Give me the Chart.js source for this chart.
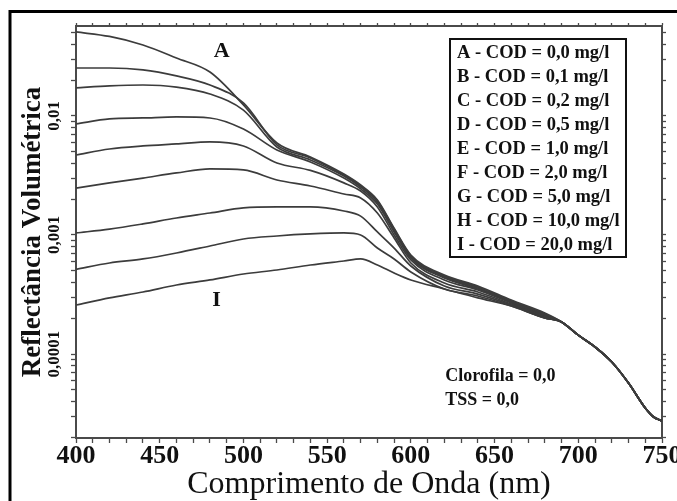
<!DOCTYPE html>
<html>
<head>
<meta charset="utf-8">
<script src="https://cdn.jsdelivr.net/npm/chart.js@4/dist/chart.umd.min.js"></script>
<style>
  html, body { margin: 0; padding: 0; background: #ffffff; }
  #wrap { width: 677px; height: 501px; position: relative; background: #ffffff; }
</style>
</head>
<body>
<div id="wrap"><canvas id="c" width="677" height="501"></canvas></div>
<script>
// ---------------- data ----------------
const wavelengths = [400, 420, 440, 460, 480, 500, 520, 540, 560, 570, 580, 590, 600, 620, 640, 660, 680, 690, 700, 710, 720, 730, 740, 745, 750];

const seriesLabels = [
  'A - COD = 0,0 mg/l',
  'B - COD = 0,1 mg/l',
  'C - COD = 0,2 mg/l',
  'D - COD = 0,5 mg/l',
  'E - COD = 1,0 mg/l',
  'F - COD = 2,0 mg/l',
  'G - COD = 5,0 mg/l',
  'H - COD = 10,0 mg/l',
  'I - COD = 20,0 mg/l'
];

const serieA = [0.0508, 0.0466, 0.0395, 0.0307, 0.0234, 0.0124, 0.00593, 0.00452, 0.00325, 0.00263, 0.00197, 0.00114, 0.000679, 0.000461, 0.000373, 0.000284, 0.000221, 0.000186, 0.000144, 0.0001145, 0.0000857, 0.0000571, 0.0000352, 0.0000296, 0.0000274];
const serieB = [0.0253, 0.0253, 0.0244, 0.0217, 0.0182, 0.01286, 0.00571, 0.00444, 0.00319, 0.00258, 0.00193, 0.00112, 0.000666, 0.000452, 0.000366, 0.000279, 0.000217, 0.000186, 0.000144, 0.0001145, 0.0000857, 0.0000571, 0.0000352, 0.0000296, 0.0000274];
const serieC = [0.0172, 0.0179, 0.0182, 0.0175, 0.0153, 0.0112, 0.00549, 0.00427, 0.00313, 0.00253, 0.00189, 0.00110, 0.000653, 0.000444, 0.000359, 0.000274, 0.000213, 0.000186, 0.000144, 0.0001145, 0.0000857, 0.0000571, 0.0000352, 0.0000296, 0.0000274];
const serieD = [0.00857, 0.00944, 0.00962, 0.00981, 0.00962, 0.00777, 0.00518, 0.00411, 0.00301, 0.00244, 0.00182, 0.00106, 0.000640, 0.000435, 0.000352, 0.000274, 0.000213, 0.000186, 0.000144, 0.0001145, 0.0000857, 0.0000571, 0.0000352, 0.0000296, 0.0000274];
const serieE = [0.00470, 0.00528, 0.00560, 0.00582, 0.00605, 0.00560, 0.00403, 0.00349, 0.00274, 0.00234, 0.00172, 0.00100, 0.000617, 0.000419, 0.000345, 0.000268, 0.000209, 0.000186, 0.000144, 0.0001145, 0.0000857, 0.0000571, 0.0000352, 0.0000296, 0.0000274];
const serieF = [0.00248, 0.00274, 0.00301, 0.00332, 0.00359, 0.00352, 0.00290, 0.00258, 0.00221, 0.00205, 0.00153, 0.000944, 0.000582, 0.000395, 0.000332, 0.000263, 0.000205, 0.000186, 0.000144, 0.0001145, 0.0000857, 0.0000571, 0.0000352, 0.0000296, 0.0000274];
const serieG = [0.00104, 0.00112, 0.00124, 0.00139, 0.00153, 0.00169, 0.00172, 0.00172, 0.00159, 0.00144, 0.00106, 0.000777, 0.000549, 0.000373, 0.000319, 0.000258, 0.000201, 0.000186, 0.000144, 0.0001145, 0.0000857, 0.0000571, 0.0000352, 0.0000296, 0.0000274];
const serieH = [0.000515, 0.000582, 0.000629, 0.000706, 0.000808, 0.000926, 0.000981, 0.00102, 0.00104, 0.00100, 0.000777, 0.000629, 0.000489, 0.000352, 0.000307, 0.000253, 0.000201, 0.000186, 0.000144, 0.0001145, 0.0000857, 0.0000571, 0.0000352, 0.0000296, 0.0000274];
const serieI = [0.000258, 0.000296, 0.000332, 0.000380, 0.000419, 0.000470, 0.000508, 0.000560, 0.000605, 0.000629, 0.000560, 0.000479, 0.000419, 0.000352, 0.000296, 0.000253, 0.000201, 0.000186, 0.000144, 0.0001145, 0.0000857, 0.0000571, 0.0000352, 0.0000296, 0.0000274];

const allSeries = [serieA, serieB, serieC, serieD, serieE, serieF, serieG, serieH, serieI];

// ticks
const xTickValues = [400, 410, 420, 430, 440, 450, 460, 470, 480, 490, 500, 510, 520, 530, 540, 550, 560, 570, 580, 590, 600, 610, 620, 630, 640, 650, 660, 670, 680, 690, 700, 710, 720, 730, 740, 750];
const xLabelValues = [400, 450, 500, 550, 600, 650, 700, 750];
const yLabelValues = [0.01, 0.001, 0.0001];
const yLabelTexts = ['0,01', '0,001', '0,0001'];
const yMinorMantissas = [1, 2, 3, 4, 5, 6, 7, 8, 9];
const yDecades = [0.00001, 0.0001, 0.001, 0.01];

const xTitle = 'Comprimento de Onda (nm)';
const yTitle = 'Reflectância Volumétrica';
const noteLines = ['Clorofila = 0,0', 'TSS = 0,0'];
const curveTags = ['A', 'I'];

// ---------------- config ----------------
const X_MIN = 400, X_MAX = 750;
const Y_MIN = 0.0000197, Y_MAX = 0.057;
const SERIF = "'Liberation Serif', 'Times New Roman', serif";
const AXIS_COLOR = '#4a4a4a';
const LINE_COLOR = '#3c3c3c';

const yTickValues = [];
yDecades.forEach(d => yMinorMantissas.forEach(m => {
  const v = +(d * m).toPrecision(6);
  if (v >= Y_MIN && v <= Y_MAX) yTickValues.push(v);
}));

const datasets = allSeries.map((arr, i) => ({
  label: seriesLabels[i],
  data: wavelengths.map((w, j) => ({ x: w, y: arr[j] })),
  borderColor: LINE_COLOR,
  borderWidth: 1.7,
  pointRadius: 0,
  fill: false,
  cubicInterpolationMode: 'monotone'
}));

function setXTicks(s) { s.ticks = xTickValues.map(v => ({ value: v })); }
function setYTicks(s) { s.ticks = yTickValues.map(v => ({ value: v })); }

const gridCommon = { display: true, drawOnChartArea: false, drawTicks: true, tickLength: 5, tickColor: AXIS_COLOR, tickWidth: 1.3 };
const borderCommon = { display: true, color: AXIS_COLOR, width: 2 };

const decorPlugin = {
  id: 'decor',
  afterDraw(chart) {
    const ctx = chart.ctx;
    const xs = chart.scales.x, ys = chart.scales.y;
    ctx.save();
    // outer frame
    ctx.strokeStyle = '#000';
    ctx.lineWidth = 3;
    ctx.beginPath();
    ctx.moveTo(10, 505);
    ctx.lineTo(10, 11.5);
    ctx.lineTo(680, 11.5);
    ctx.stroke();

    // legend box
    ctx.lineWidth = 2;
    ctx.strokeStyle = '#111';
    ctx.strokeRect(450, 39, 176, 218);
    ctx.fillStyle = '#111';
    ctx.font = 'bold 18.5px ' + SERIF;
    ctx.textBaseline = 'middle';
    ctx.textAlign = 'left';
    chart.data.datasets.forEach((ds, i) => {
      ctx.fillText(ds.label, 457, 53 + i * 24);
    });

    // curve tags
    ctx.font = 'bold 22px ' + SERIF;
    ctx.textAlign = 'center';
    ctx.fillText(curveTags[0], xs.getPixelForValue(487), ys.getPixelForValue(0.0352));
    ctx.fillText(curveTags[1], xs.getPixelForValue(484), ys.getPixelForValue(0.000284));

    // notes
    ctx.font = 'bold 18px ' + SERIF;
    ctx.textAlign = 'left';
    ctx.fillText(noteLines[0], xs.getPixelForValue(620.5), ys.getPixelForValue(0.0000653));
    ctx.fillText(noteLines[1], xs.getPixelForValue(620.5), ys.getPixelForValue(0.0000411));
    ctx.restore();
  }
};

new Chart(document.getElementById('c'), {
  type: 'line',
  data: { datasets },
  plugins: [decorPlugin],
  options: {
    responsive: false,
    animation: false,
    layout: { padding: { left: 0, top: 26, right: 15, bottom: 0 }, autoPadding: false },
    plugins: { legend: { display: false }, tooltip: { enabled: false } },
    scales: {
      x: {
        type: 'linear', position: 'bottom', min: X_MIN, max: X_MAX,
        afterBuildTicks: setXTicks,
        afterFit: s => { s.height = 63; s.paddingLeft = 0; s.paddingRight = 0; },
        grid: gridCommon, border: borderCommon,
        ticks: {
          autoSkip: false, maxRotation: 0, minRotation: 0, padding: 0, color: '#111',
          font: { family: SERIF, size: 26, weight: 'bold', lineHeight: 1 },
          callback: v => (xLabelValues.includes(v) ? String(v) : '')
        },
        title: {
          display: true, text: xTitle, color: '#111',
          font: { family: SERIF, size: 32, weight: 'normal', lineHeight: 1 },
          padding: { top: 0, bottom: 0 }
        }
      },
      x2: {
        type: 'linear', position: 'top', min: X_MIN, max: X_MAX,
        afterBuildTicks: setXTicks,
        afterFit: s => { s.height = 0; s.paddingLeft = 0; s.paddingRight = 0; },
        grid: Object.assign({}, gridCommon, { tickLength: 3 }), border: borderCommon,
        ticks: { display: false }
      },
      y: {
        type: 'logarithmic', position: 'left', min: Y_MIN, max: Y_MAX,
        afterBuildTicks: setYTicks,
        afterFit: s => { s.width = 76; s.paddingTop = 0; s.paddingBottom = 0; },
        grid: gridCommon, border: borderCommon,
        ticks: {
          autoSkip: false, minRotation: 90, maxRotation: 90, crossAlign: 'center', padding: -7, color: '#111',
          font: { family: SERIF, size: 17, weight: 'bold' },
          callback: v => {
            const k = yLabelValues.findIndex(l => Math.abs(v - l) / l < 1e-6);
            return k >= 0 ? yLabelTexts[k] : '';
          }
        },
        title: {
          display: true, text: yTitle, color: '#111',
          font: { family: SERIF, size: 27, weight: 'bold', lineHeight: 1.2 },
          padding: { top: 17, bottom: 0 }
        }
      },
      y2: {
        type: 'logarithmic', position: 'right', min: Y_MIN, max: Y_MAX,
        afterBuildTicks: setYTicks,
        afterFit: s => { s.width = 0; s.paddingTop = 0; s.paddingBottom = 0; },
        grid: Object.assign({}, gridCommon, { tickLength: 4 }), border: borderCommon,
        ticks: { display: false }
      }
    }
  }
});
</script>
</body>
</html>
